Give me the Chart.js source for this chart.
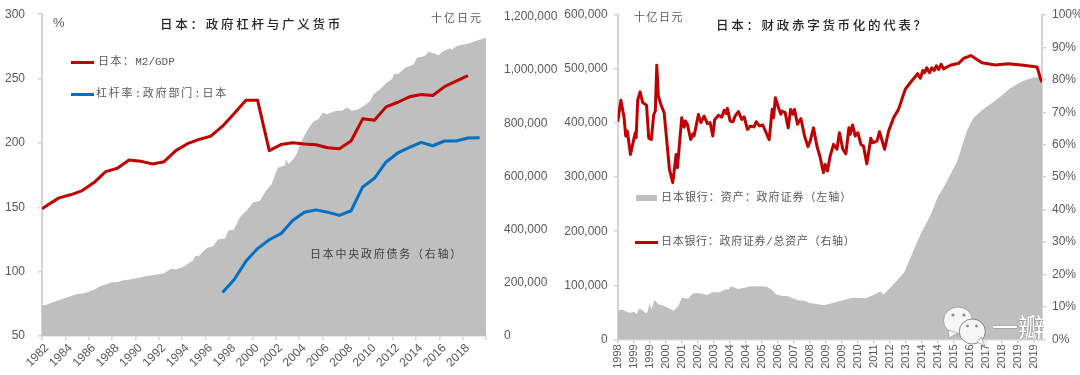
<!DOCTYPE html>
<html>
<head>
<meta charset="utf-8">
<script src="https://cdn.jsdelivr.net/npm/chart.js@4"></script>
<style>
  html, body { margin: 0; padding: 0; background: #fff; }
  #page { position: relative; width: 1080px; height: 375px; overflow: hidden; }
  canvas { position: absolute; }
  .note { position: absolute; white-space: nowrap; font-family: 'Liberation Mono', 'Noto Sans CJK SC', sans-serif; font-size: 11px; line-height: 14px; color: #595959; }
  .title { font-family: 'Noto Sans CJK SC', sans-serif; font-size: 12.5px; letter-spacing: 2.75px; color: #262626; font-weight: 500; }
  .swatch { position: absolute; }
</style>
</head>
<body>
<div id="page">
  <!-- the canvases overhang the page a little so the plot areas land where the reference has them -->
  <canvas id="chart-left" width="560" height="381" style="left:0;top:-6px"></canvas>
  <canvas id="chart-right" width="540" height="375" style="left:540px;top:1px"></canvas>

  <div class="note" style="left:53px;top:16px;font-size:13px;font-family:'Liberation Sans'">%</div>
  <div class="note title" style="left:160px;top:17px">日本&#xFF1A;政府杠杆与广义货币</div>
  <div class="note" style="left:431px;top:12px;letter-spacing:2px">十亿日元</div>
  <div class="swatch" style="left:71px;top:61px;width:23px;height:3px;background:#c00000"></div>
  <div class="note" style="left:98px;top:55px"><span style="letter-spacing:1.4px">日本&#xFF1A;</span>M2/GDP</div>
  <div class="swatch" style="left:71px;top:93px;width:23px;height:3px;background:#0070c0"></div>
  <div class="note" style="left:96px;top:87px;letter-spacing:1.8px">杠杆率:政府部门:日本</div>
  <div class="note" style="left:310px;top:248px;letter-spacing:1.75px;color:#404040">日本中央政府债务&#xFF08;右轴&#xFF09;</div>

  <div class="note" style="left:634px;top:11px;letter-spacing:1.5px">十亿日元</div>
  <div class="note title" style="left:716px;top:18px;letter-spacing:2.7px">日本&#xFF1A;财政赤字货币化的代表&#xFF1F;</div>
  <div class="swatch" style="left:636px;top:195px;width:21px;height:6px;background:#bfbfbf"></div>
  <div class="note" style="left:661px;top:191px;letter-spacing:.95px">日本银行&#xFF1A;资产&#xFF1A;政府证券&#xFF08;左轴&#xFF09;</div>
  <div class="swatch" style="left:635px;top:241px;width:23px;height:3px;background:#c00000"></div>
  <div class="note" style="left:661px;top:235px;letter-spacing:.7px">日本银行&#xFF1A;政府证券/总资产&#xFF08;右轴&#xFF09;</div>

  <svg style="position:absolute;left:940px;top:300px" width="140" height="60">
    <ellipse cx="18" cy="20.5" rx="14.5" ry="13.5" fill="#f6f6f6" stroke="#808080" stroke-width=".6"/>
    <path d="M8 30 L9 38 L18 33 Z" fill="#f6f6f6" stroke="#808080" stroke-width=".5"/>
    <circle cx="13" cy="15" r="1.6" fill="#8c8c8c"/>
    <circle cx="24" cy="15" r="1.6" fill="#8c8c8c"/>
    <ellipse cx="32.3" cy="31.5" rx="13" ry="12.5" fill="#f6f6f6" stroke="#6e6e6e" stroke-width=".8"/>
    <path d="M37 42 L45 46 L41 37 Z" fill="#f6f6f6" stroke="#6e6e6e" stroke-width=".5"/>
    <circle cx="27.5" cy="26" r="1.4" fill="#8c8c8c"/>
    <circle cx="36.5" cy="26" r="1.4" fill="#8c8c8c"/>
    <text x="52" y="37" font-family="Noto Sans CJK SC" font-size="26" font-weight="400" fill="#ffffff" stroke="#555555" stroke-width=".35" paint-order="stroke">一瓣</text>
  </svg>
</div>

<script>
// Left chart: yearly ratios, %
const ratioYears = [1982, 1982.45, 1983.45, 1984.45, 1985.45, 1986.45, 1987.45, 1988.45, 1989.45, 1990.45, 1991.45, 1992.45, 1993.45, 1994.45, 1995.45, 1996.45, 1997.45, 1998.45, 1999.45, 2000.45, 2001.45, 2002.45, 2003.45, 2004.45, 2005.45, 2006.45, 2007.45, 2008.45, 2009.45, 2010.45, 2011.45, 2012.45, 2013.45, 2014.45, 2015.45, 2016.45, 2017.45, 2018.45];
const m2Gdp = [148.8, 151.5, 157.3, 159.7, 163, 169.2, 177.7, 180.3, 186.8, 185.7, 183.7, 185.4, 194, 199.4, 202.7, 205.3, 213, 222.8, 233.2, 233.2, 194, 198.7, 200.2, 199.1, 198.6, 196.3, 195.5, 201.5, 218.7, 217.7, 228, 231.6, 235.8, 237.6, 236.8, 243.7, 248, 252.2];
const leverageYears = [1997.45, 1998.45, 1999.45, 2000.45, 2001.45, 2002.45, 2003.45, 2004.45, 2005.45, 2006.45, 2007.45, 2008.45, 2009.45, 2010.45, 2011.45, 2012.45, 2013.45, 2014.45, 2015.45, 2016.45, 2017.45, 2018.45, 2019.45];
const leverage = [83.8, 93.9, 108, 117.9, 124.8, 129.5, 139.8, 146.2, 148, 146.2, 143.7, 147.3, 165.8, 172.5, 185.2, 192.2, 196.5, 200.4, 197.8, 201.5, 201.5, 203.8, 204];

// Central government debt, billion yen
const debtYears = [1982, 1982.5, 1983, 1983.5, 1984, 1984.5, 1985, 1985.5, 1986, 1986.5, 1987, 1987.5, 1988, 1988.5, 1989, 1989.53, 1990.96, 1992.4, 1993.1, 1993.38, 1993.95, 1994.95, 1995.1, 1995.4, 1996.1, 1996.66, 1997.04, 1997.66, 1997.95, 1998.43, 1998.95, 1999.52, 2000.09, 2000.66, 2001.09, 2001.66, 2002.09, 2002.23, 2002.8, 2002.89, 2003.09, 2003.52, 2003.8, 2004.09, 2004.52, 2004.94, 2005.23, 2005.66, 2006.03, 2006.37, 2006.94, 2007.23, 2007.66, 2008.14, 2008.51, 2009.08, 2009.65, 2010.08, 2010.37, 2010.94, 2011.51, 2011.94, 2012.14, 2012.51, 2013.08, 2013.79, 2014.08, 2014.79, 2015.08, 2015.65, 2015.93, 2016.36, 2016.9, 2017.1, 2017.5, 2018.2, 2018.64, 2019.3, 2020];
const debt = [114000, 119000, 128000, 136000, 143000, 150000, 157000, 160000, 166000, 175000, 188000, 195000, 202000, 203000, 210000, 212000, 226000, 235000, 254000, 250000, 257000, 285000, 301000, 300000, 331000, 337000, 363000, 366000, 397000, 400000, 447000, 472000, 503000, 509000, 541000, 572000, 622000, 634000, 641000, 666000, 647000, 666000, 684000, 722000, 759000, 790000, 807000, 815000, 840000, 834000, 843000, 847000, 847000, 859000, 847000, 853000, 869000, 884000, 909000, 928000, 953000, 965000, 984000, 986000, 1009000, 1021000, 1046000, 1053000, 1069000, 1061000, 1056000, 1071000, 1082000, 1077000, 1090000, 1097000, 1102000, 1112000, 1121000];
const debtTicks = [0, 200000, 400000, 600000, 800000, 1000000, 1200000];

// Right chart: x is the month counted from the first tick, labels come every 10 months
const monthLabels = ['1998', '1999', '1999', '2000', '2001', '2002', '2003', '2004', '2004', '2005', '2006', '2007', '2008', '2009', '2009', '2010', '2011', '2012', '2013', '2014', '2014', '2015', '2016', '2017', '2018', '2019', '2019'];
const assetMonths = [0, 3, 6, 8, 10, 12, 13, 15, 17, 18.5, 20, 21, 23, 25, 30, 35, 38, 40, 44, 47, 51, 56, 59, 64, 67, 69, 71, 75, 80, 83, 89, 93, 96, 99, 103, 106, 110, 113, 116, 120, 129, 139, 147, 155, 162, 164, 166, 172, 179, 185, 190, 195, 200, 204, 212, 218, 222, 228, 237, 245, 253, 260, 265];
const bojBonds = [53000, 55000, 50000, 49000, 51000, 47000, 56000, 55000, 49000, 49000, 67000, 55000, 73000, 66000, 60000, 53000, 62000, 77000, 75000, 85000, 85000, 82000, 87000, 87000, 92000, 92000, 98000, 93000, 96000, 98000, 98000, 97000, 92000, 83000, 80000, 80000, 75000, 72000, 72000, 67000, 63000, 71000, 77000, 76000, 85000, 89000, 83000, 101000, 124000, 166000, 200000, 227000, 264000, 283000, 329000, 385000, 409000, 425000, 444000, 464000, 478000, 485000, 484000];
const shareMonths = [0, 2, 4, 5, 6, 8, 10, 11, 11.5, 12.5, 14, 15.6, 18, 19.4, 21, 22.5, 23.5, 24.4, 25.4, 27, 29, 32.3, 34.4, 36.5, 37.3, 40, 41.5, 42.3, 43.5, 45.6, 47, 47.7, 50.4, 52, 54, 56, 57.7, 59.4, 60.6, 63, 65, 66.5, 67.7, 68.5, 70.2, 72, 73.3, 75.4, 77.5, 79, 81, 82.7, 85.2, 86.5, 88.5, 90.6, 92.7, 94.6, 96.5, 97.3, 98.5, 100.4, 101.9, 102.5, 104.6, 106.5, 108, 109.4, 110.4, 112.3, 114.4, 116.7, 118.8, 120.2, 122.3, 124.4, 126.5, 128.5, 129.6, 131, 132.7, 134.8, 136.9, 138.5, 140.6, 142.5, 144.4, 145.2, 146.7, 148.3, 150, 151.9, 153.5, 155.6, 158.1, 159.2, 161.9, 163.5, 166.7, 169.2, 172.3, 175.4, 179.6, 182.7, 187.3, 189, 190.6, 191.7, 193, 194.8, 196.2, 197.7, 199, 200.4, 202, 203.5, 207.7, 212.9, 216, 220.6, 224.4, 227.5, 235.8, 244, 253.5, 261.9, 264, 265];
const bojShare = [67.1, 73.7, 68.3, 62.7, 64.2, 57, 61.6, 63.7, 62.2, 73.8, 76.3, 73, 72.2, 62, 61.6, 69.3, 70.4, 84.5, 75, 72.4, 69.9, 52.4, 48.3, 57, 52.9, 68.3, 65.4, 67.3, 66.3, 61.6, 63.4, 62.7, 69.3, 66.8, 68.8, 66.5, 66.8, 62.7, 67.8, 69.1, 68.5, 70.6, 69.6, 71.2, 67.3, 67.1, 68.8, 70.2, 67.8, 68.6, 64.7, 65.7, 65.5, 67.1, 65.8, 66.1, 63.7, 61.6, 70.9, 68.3, 74.5, 71.4, 69.4, 70.4, 69.9, 65.2, 70.9, 69.4, 70.9, 66.3, 68.1, 62.7, 59.4, 61.1, 65.2, 59.6, 56, 51.4, 53.9, 51.9, 56.5, 60.1, 58.6, 63.7, 58.6, 57.2, 65.2, 63.2, 66.1, 62.7, 63.7, 60.1, 59.6, 54.1, 62, 60.6, 61.1, 64, 58.6, 64.2, 68.3, 70.9, 77.1, 79.1, 81.9, 80.5, 82.9, 82.2, 83.7, 82.2, 83.7, 82.9, 84.3, 83.2, 84.8, 83.4, 84.5, 85.1, 86.6, 87.5, 86.3, 85.3, 84.6, 85, 84.5, 84, 80.5, 79.3];

const red = '#c00000';
const blue = '#0070c0';
const fillGray = '#bfbfbf';
const axisGray = '#d4d4d4';
const textGray = '#595959';
const labelFont = { family: "'Liberation Sans', Arial, sans-serif", size: 12 };

const toXY = (xs, ys) => xs.map((x, i) => ({ x, y: ys[i] }));

const lineSet = (data, color, yAxisID) => ({
  data, yAxisID, borderColor: color, borderWidth: 3, pointRadius: 0,
  fill: false, tension: 0, order: 1, borderJoinStyle: 'round'
});
const areaSet = (data, yAxisID) => ({
  data, yAxisID, borderWidth: 0, pointRadius: 0,
  backgroundColor: fillGray, fill: 'origin', tension: 0, order: 2
});

const axisGrid = { drawOnChartArea: false, color: axisGray, tickLength: 4, lineWidth: 1.5 };
const commaTick = (v) => v.toLocaleString('en-US');

const baseOptions = (top) => ({
  responsive: false,
  animation: false,
  layout: { autoPadding: false, padding: { top } },
  plugins: { legend: { display: false }, tooltip: { enabled: false } }
});

new Chart(document.getElementById('chart-left'), {
  type: 'line',
  data: {
    datasets: [
      lineSet(toXY(ratioYears, m2Gdp), red, 'y'),
      lineSet(toXY(leverageYears, leverage), blue, 'y'),
      areaSet(toXY(debtYears, debt), 'y1')
    ]
  },
  options: {
    ...baseOptions(13),
    scales: {
      x: {
        type: 'linear', min: 1982, max: 2020,
        afterFit: (s) => { s.height = 39; },
        border: { color: axisGray, width: 1.5 },
        grid: axisGrid,
        ticks: {
          stepSize: 2, includeBounds: false, autoSkip: false, minRotation: 45, maxRotation: 45,
          padding: 1, labelOffset: 5, font: labelFont, color: textGray,
          callback: (v) => (v < 2020 ? String(v) : '')
        }
      },
      y: {
        position: 'left', min: 50, max: 300,
        afterFit: (s) => { s.width = 42; },
        border: { color: axisGray, width: 2 },
        grid: axisGrid,
        ticks: { stepSize: 50, padding: 13, font: labelFont, color: textGray }
      },
      y1: {
        position: 'right', min: 0, max: 1210000,
        afterFit: (s) => { s.width = 74; },
        afterBuildTicks: (s) => { s.ticks = debtTicks.map((value) => ({ value })); },
        border: { display: false },
        grid: { display: false },
        ticks: { padding: 10, font: labelFont, color: textGray, callback: commaTick }
      }
    }
  }
});

new Chart(document.getElementById('chart-right'), {
  type: 'line',
  data: {
    datasets: [
      lineSet(toXY(shareMonths, bojShare), red, 'y1'),
      areaSet(toXY(assetMonths, bojBonds), 'y')
    ]
  },
  options: {
    ...baseOptions(14),
    scales: {
      x: {
        type: 'linear', min: 0, max: 265,
        afterFit: (s) => { s.height = 36.7; },
        border: { color: axisGray, width: 1.5 },
        grid: axisGrid,
        ticks: {
          stepSize: 10, includeBounds: false, autoSkip: false, minRotation: 90, maxRotation: 90,
          padding: 1, font: { ...labelFont, size: 11 }, color: textGray,
          callback: (v) => monthLabels[v / 10]
        }
      },
      y: {
        position: 'left', min: 0, max: 600000,
        afterFit: (s) => { s.width = 77.7; },
        border: { color: axisGray, width: 2 },
        grid: axisGrid,
        ticks: { stepSize: 100000, padding: 6, font: labelFont, color: textGray, callback: commaTick }
      },
      y1: {
        position: 'right', min: 0, max: 100,
        afterFit: (s) => { s.width = 38; },
        border: { color: axisGray, width: 2 },
        grid: axisGrid,
        ticks: { stepSize: 10, padding: 6, font: labelFont, color: textGray, callback: (v) => v + '%' }
      }
    }
  }
});
</script>
</body>
</html>
